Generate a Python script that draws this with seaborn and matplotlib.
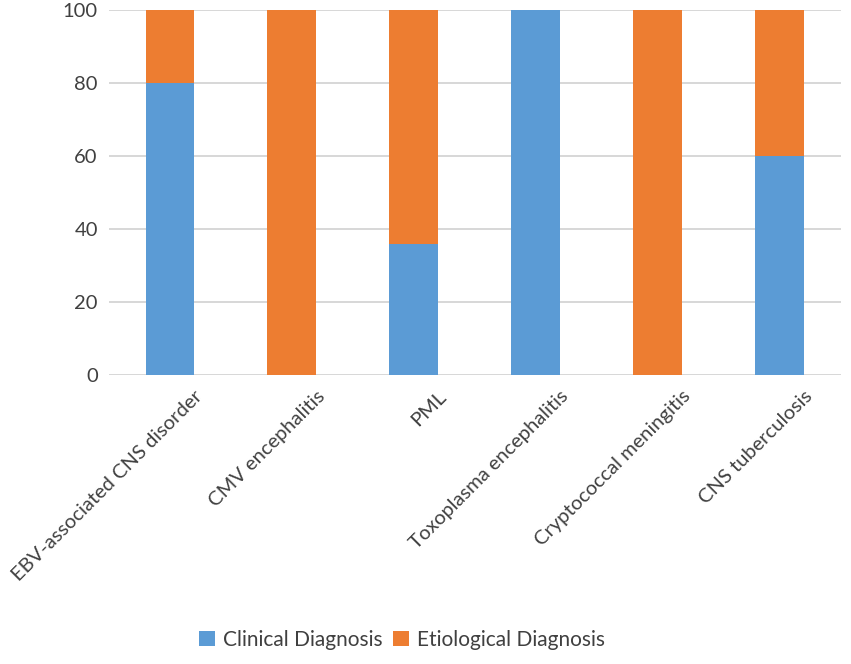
import matplotlib
matplotlib.use("Agg")
import matplotlib.pyplot as plt
import matplotlib.transforms as mtransforms
import seaborn as sns
import pandas as pd

# data
categories = ["EBV-associated CNS disorder", "CMV encephalitis", "PML",
              "Toxoplasma encephalitis", "Cryptococcal meningitis", "CNS tuberculosis"]
clinical = [80, 0, 36, 100, 0, 60]
etiological = [20, 100, 64, 0, 100, 40]
series_names = ["Clinical Diagnosis", "Etiological Diagnosis"]
yticks = [0, 20, 40, 60, 80, 100]

blue = "#5B9BD5"
orange = "#ED7D31"

sns.set_theme(style="white")
plt.rcParams['font.family'] = ['Lato', 'DejaVu Sans']

df = pd.DataFrame({"category": categories,
                   "clinical": clinical,
                   "total": [c + e for c, e in zip(clinical, etiological)]})

fig = plt.figure(figsize=(8.51, 6.64), dpi=100)
ax = fig.add_axes([0.128, 0.435, 0.86, 0.55])

# stacked bars: draw the full height in orange, then the blue part on top
sns.barplot(data=df, x="category", y="total", color=orange, width=0.4,
            saturation=1, linewidth=0, ax=ax, label=series_names[1], zorder=2)
sns.barplot(data=df, x="category", y="clinical", color=blue, width=0.4,
            saturation=1, linewidth=0, ax=ax, label=series_names[0], zorder=3)

ax.set_ylim(0, 100)
ax.set_yticks(yticks)
ax.set_xlim(-0.5, len(categories) - 0.5)
ax.yaxis.grid(True, color="#D4D4D4", linewidth=1.3, zorder=0)
ax.set_axisbelow(True)
for s in ax.spines.values():
    s.set_visible(False)
ax.set_xlabel("")
ax.set_ylabel("")
ax.tick_params(axis="y", length=0, labelsize=14.5, colors="#404040", pad=8)
ax.tick_params(axis="x", length=0, labelsize=14.5, colors="#404040", pad=6)
shift = mtransforms.ScaledTranslation(24 / 100, -4 / 100, fig.dpi_scale_trans)
for lbl in ax.get_xticklabels():
    lbl.set_rotation(45)
    lbl.set_ha("right")
    lbl.set_rotation_mode("anchor")
    lbl.set_transform(lbl.get_transform() + shift)

handles, labels = ax.get_legend_handles_labels()
order = [labels.index(n) for n in series_names]
ax.legend([handles[i] for i in order], [labels[i] for i in order],
          loc="center", bbox_to_anchor=(402 / 851, 1 - 640 / 664),
          bbox_transform=fig.transFigure, ncol=2, frameon=False,
          fontsize=15, handlelength=0.75, handleheight=0.75,
          columnspacing=0.5, handletextpad=0.4, labelcolor="#404040")

fig.savefig("out.png", dpi=100)
